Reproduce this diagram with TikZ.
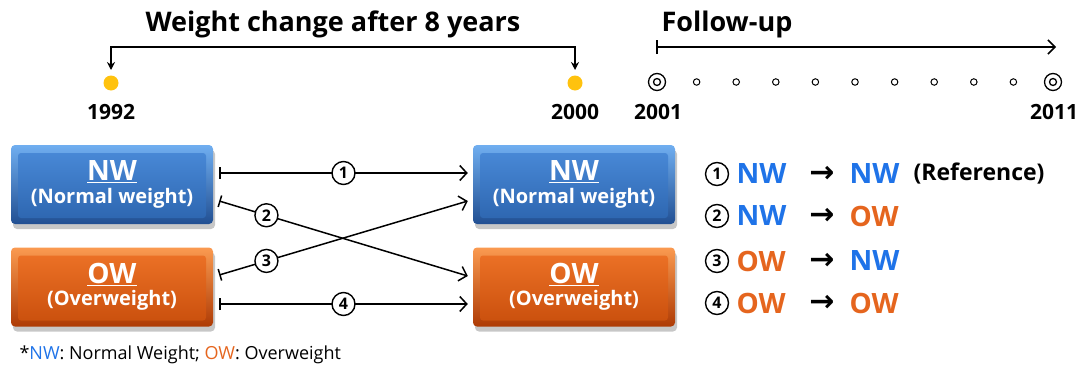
\documentclass[tikz,border=0pt]{standalone}
\usepackage{fontspec}
\setmainfont{Open Sans}
\newfontfamily\sym{DejaVu Sans}
\usetikzlibrary{arrows.meta,calc,shadows}
\definecolor{bluetop}{HTML}{70AEF0}
\definecolor{bluebot}{HTML}{214F92}
\definecolor{bluefacet}{HTML}{4B8CDA}
\definecolor{bluefaceb}{HTML}{2C64AE}
\definecolor{orgtop}{HTML}{FA9A50}
\definecolor{orgbot}{HTML}{AE3B05}
\definecolor{orgfacet}{HTML}{EF7428}
\definecolor{orgfaceb}{HTML}{C84E0C}
\definecolor{nwblue}{HTML}{1F73E8}
\definecolor{owor}{HTML}{E5651E}
\definecolor{dotyel}{HTML}{FFC20E}
\tikzset{
  box/.style={rounded corners=4pt, minimum width=202pt, minimum height=79pt,
    text=white, font=\bfseries, align=center, inner sep=0pt,
    drop shadow={shadow xshift=2pt, shadow yshift=-5pt, fill=black!22, opacity=1}},
  face/.style 2 args={path picture={\shade[top color=#1, bottom color=#2, rounded corners=3pt]
     ($(path picture bounding box.north west)+(7,8)$) rectangle ($(path picture bounding box.south east)+(-7,-6)$);}},
  bluebox/.style={box, top color=bluetop, bottom color=bluebot, face={bluefacet}{bluefaceb}},
  orgbox/.style={box, top color=orgtop, bottom color=orgbot, face={orgfacet}{orgfaceb}},
  conn/.style={line width=1.5pt, {Bar[width=12pt,line width=1.5pt]}-{Straight Barb[length=7pt,width=15pt,line width=1.5pt]}},
  numc/.style={circle, draw, line width=1.4pt, minimum size=23pt, inner sep=0pt,
    font=\bfseries\fontsize{16}{16}\selectfont},
  numlab/.style={numc, fill=white, outer sep=3pt},
  year/.style={font=\bfseries\fontsize{21}{22}\selectfont},
  head/.style={font=\bfseries\fontsize{27}{29}\selectfont},
  legend/.style={anchor=west, font=\bfseries\fontsize{28}{30}\selectfont},
  legarr/.style={font=\sym\bfseries\fontsize{30}{30}\selectfont},
  bigc/.style={draw, line width=1.3pt, circle, minimum size=17pt, inner sep=0pt},
  smallc/.style={draw, line width=1pt, circle, minimum size=6.5pt, inner sep=0pt},
}
\newcommand{\bxtext}[2]{\underline{\fontsize{28}{30}\selectfont #1}\\[4pt]{\fontsize{20}{22}\selectfont #2}}
\begin{document}
\begin{tikzpicture}[x=1pt,y=-1pt]
\useasboundingbox (0,0) rectangle (1086,367);
% top left timeline
\node[head] (title) at (333,24) {Weight change after 8 years};
\fill[dotyel] (111,83) circle (7.5) coordinate (d1);
\fill[dotyel] (575,83) circle (7.5) coordinate (d2);
\coordinate (t1) at (111,70);
\coordinate (t2) at (575,70);
\draw[line width=1.5pt, {Stealth[length=8pt,width=8pt]}-{Stealth[length=8pt,width=8pt]}] (t1) |- (343,47) -| (t2);
\node[year] (y1) at (111,112) {1992};
\node[year] (y2) at (575,112) {2000};
% follow-up
\node[head, anchor=west] (fu) at (658,24) {Follow-up};
\coordinate (fa) at (656,47);
\coordinate (fb) at (1056,47);
\draw[line width=1.5pt, {Bar[width=14pt,line width=1.5pt]}-{Straight Barb[length=7pt,width=14pt,line width=1.5pt]}] (fa) -- (fb);
\node[bigc] (c0) at (657,82) {};
\draw[line width=1.3pt] (c0) circle (3.5);
\node[bigc] (c10) at (1053,82) {};
\draw[line width=1.3pt] (c10) circle (3.5);
\foreach \k in {1,...,9} { \node[smallc] (c\k) at ({657+39.6*\k},82) {}; }
\node[year] (y3) at (658,112) {2001};
\node[year] (y4) at (1054,112) {2011};
% boxes
\node[bluebox] (lnw) at (112,184.5) {\bxtext{NW}{(Normal weight)}};
\node[orgbox]  (low) at (112,287) {\bxtext{OW}{(Overweight)}};
\node[bluebox] (rnw) at (574,184.5) {\bxtext{NW}{(Normal weight)}};
\node[orgbox]  (row) at (574,287) {\bxtext{OW}{(Overweight)}};
% connectors
\draw[conn] ($(lnw.east)+(6,-11.5)$) -- node[numlab, pos=0.5] (n1) {1} ($(rnw.west)+(-5,-11.5)$);
\draw[conn] ($(lnw.east)+(6,16.5)$) -- node[numlab, pos=0.19] (n2) {2} ($(row.west)+(-5,-11)$);
\draw[conn] ($(low.east)+(6,-12)$) -- node[numlab, pos=0.19] (n3) {3} ($(rnw.west)+(-5,16.5)$);
\draw[conn] ($(low.east)+(6,17)$) -- node[numlab, pos=0.5] (n4) {4} ($(row.west)+(-5,17)$);
% legend
\foreach \i/\y/\a/\ca/\b/\cb in {1/174/NW/nwblue/NW/nwblue, 2/216/NW/nwblue/OW/owor, 3/261/OW/owor/NW/nwblue, 4/303/OW/owor/OW/owor} {
  \node[numc] (lc\i) at (717,\y) {\i};
  \node[legend, text=\ca] (la\i) at (733,\y) {\a};
  \node[legarr] (lr\i) at (822,\y) {→};
  \node[legend, text=\cb] (lb\i) at (846,\y) {\b};
}
\node[legend, font=\bfseries\fontsize{23}{25}\selectfont] (lref) at (910,174) {(Reference)};
% footnote
\node[anchor=west, font=\fontsize{18}{20}\selectfont] (fn) at (16,355) {*\textcolor{nwblue}{NW}: Normal Weight; \textcolor{owor}{OW}: Overweight};
\end{tikzpicture}
\end{document}
